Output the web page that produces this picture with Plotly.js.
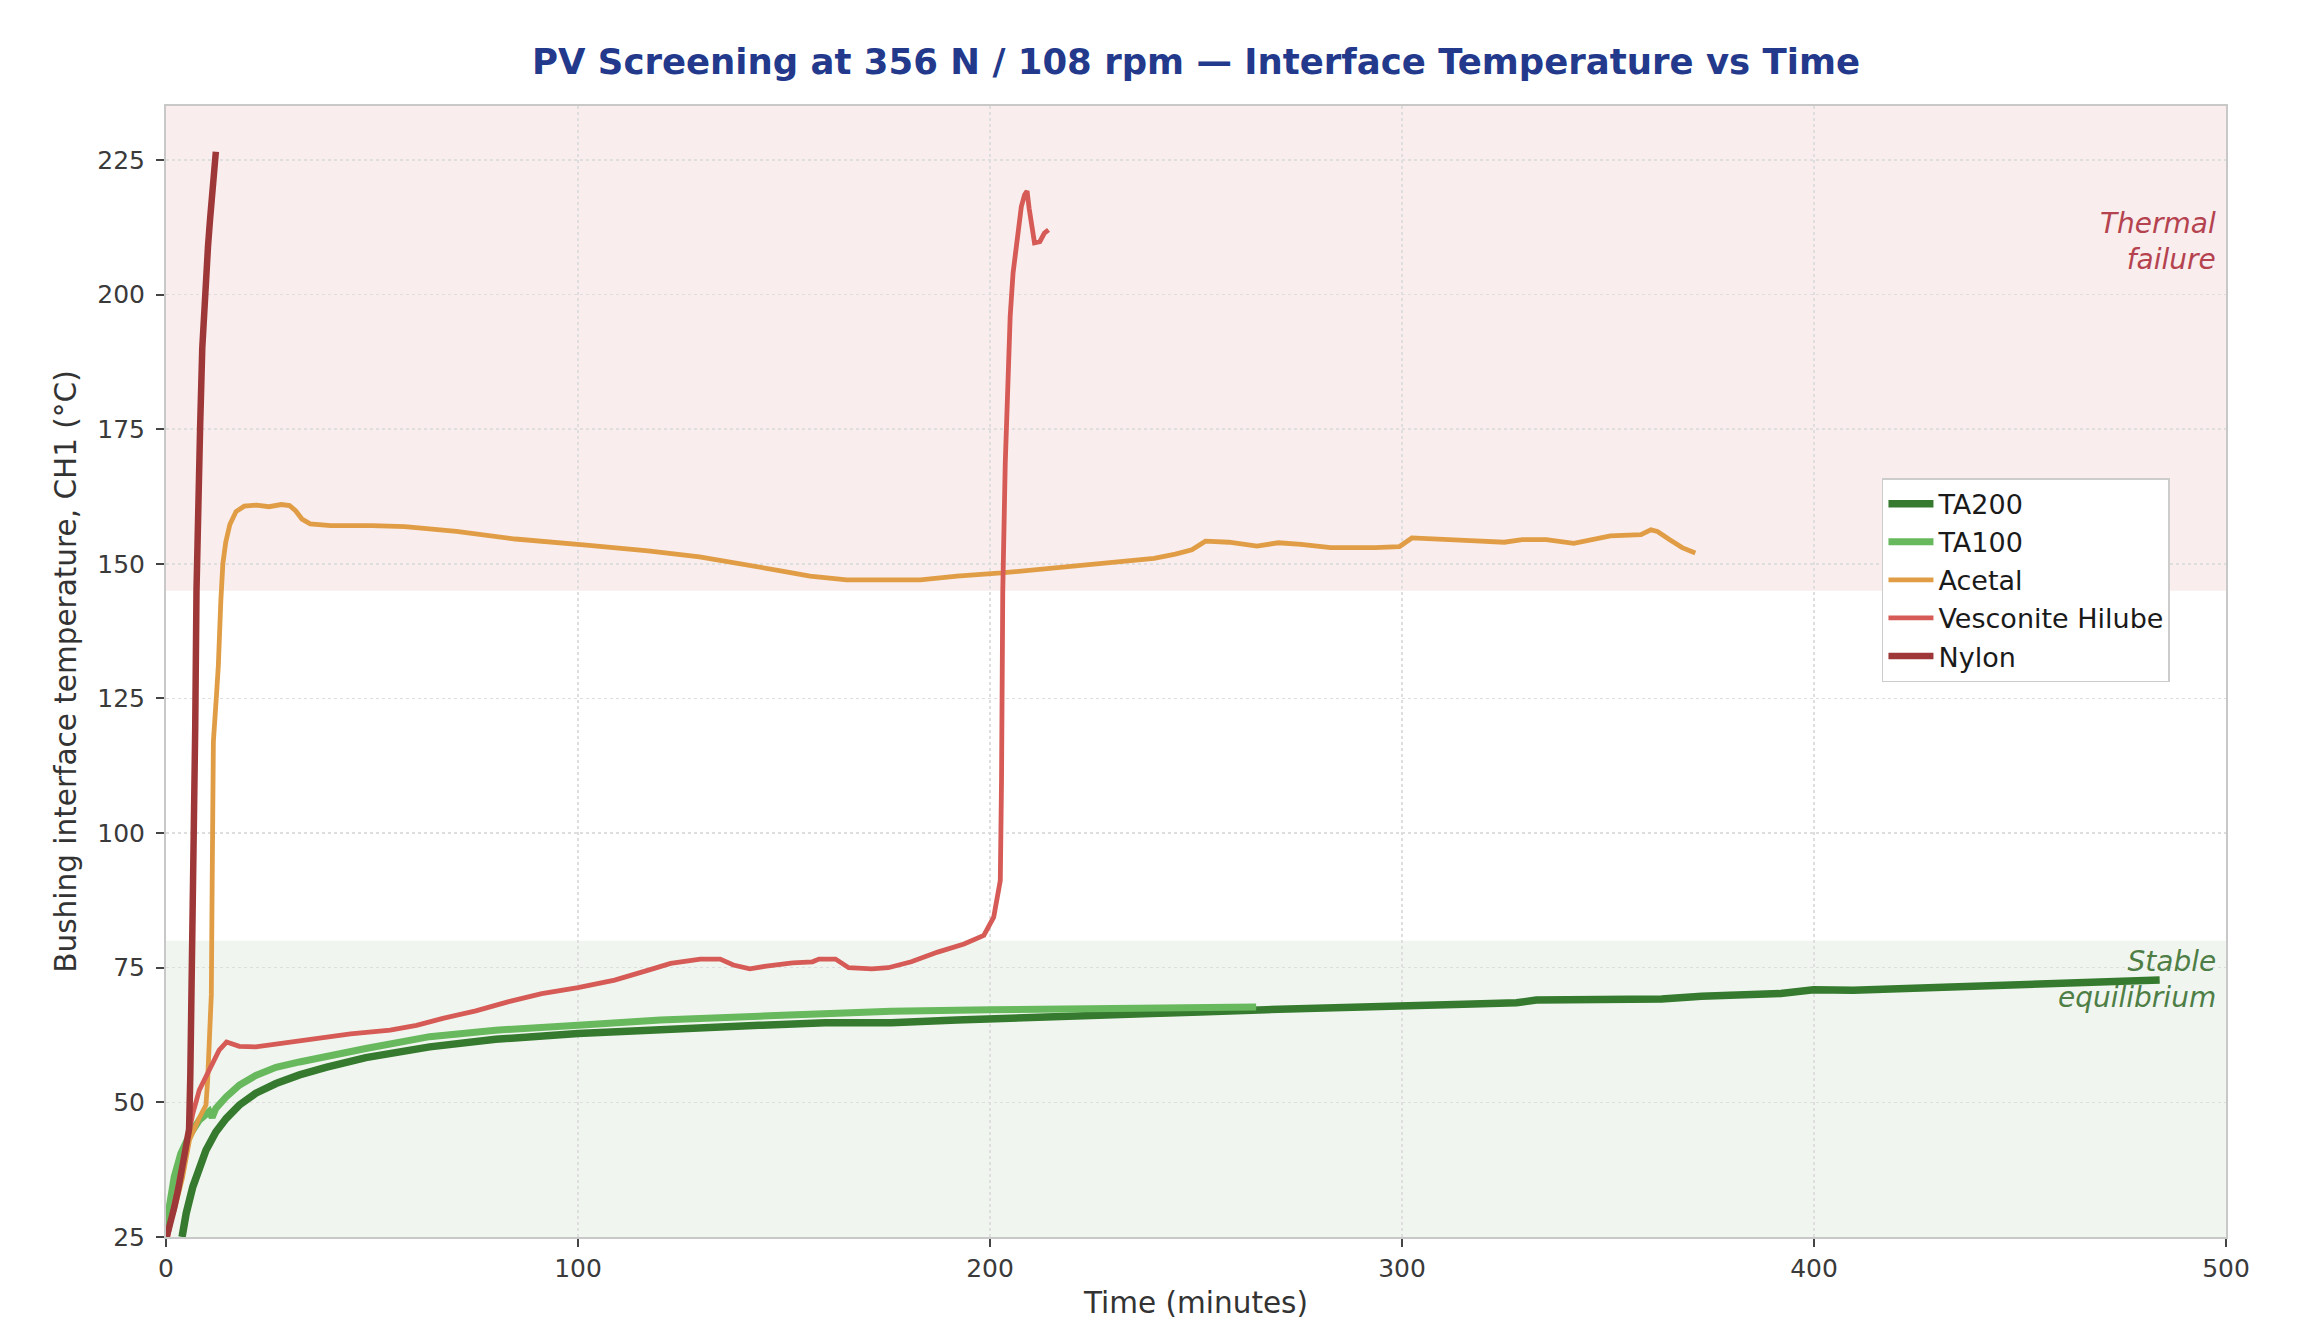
<!DOCTYPE html>
<html>
<head>
<meta charset="utf-8">
<script src="https://cdn.plot.ly/plotly-3.0.1.min.js"></script>
<style>
  html, body { margin: 0; padding: 0; background: #ffffff; }
  #paper { width: 2308px; height: 1320px; }
</style>
</head>
<body>
<div id="paper"></div>
<script>
"use strict"

// values (minutes, degC)
var ta200_time = [3.9, 4.9, 6.5, 8.1, 9.7, 12.1, 14.6, 17.8, 21.8, 26.7, 32.4, 38.8, 48.5, 64, 80, 100, 120, 144, 160, 176, 192, 208, 224, 251, 267, 292.6, 315, 327.8, 332.6, 363, 372.7, 391.9, 399.9, 409.5, 427.1, 443.1, 467.1, 483.9];
var ta200_temp = [25, 29.4, 34.3, 38, 41.1, 44.5, 47, 49.5, 51.7, 53.5, 55.1, 56.5, 58.3, 60.3, 61.7, 62.8, 63.6, 64.3, 64.8, 64.8, 65.3, 65.8, 66.2, 66.8, 67.2, 67.9, 68.2, 68.5, 69, 69.2, 69.7, 70.2, 70.9, 70.8, 71.3, 71.6, 72.2, 72.7];

var ta100_time = [0, 0.8, 2, 3.6, 5.7, 8.1, 9.7, 10.5, 11.2, 12.1, 14.6, 17.8, 21.8, 26.7, 32.4, 38.8, 48.5, 64, 80, 100, 120, 144, 160, 176, 200, 224, 251, 264.6];
var ta100_temp = [26.9, 30.6, 36.2, 40.5, 43.9, 46.7, 47.9, 48.3, 47.2, 48.9, 51, 53.2, 55, 56.5, 57.5, 58.6, 60, 62.2, 63.4, 64.3, 65.3, 66, 66.5, 66.9, 67.2, 67.4, 67.5, 67.7];

var acetal_time = [0, 2, 4, 5.7, 8, 9.7, 10.1, 10.5, 11, 11.2, 11.5, 12.2, 12.7, 13.3, 13.8, 14.5, 15.5, 17, 19, 22, 25, 28, 30, 31.5, 33, 35, 40, 50, 58, 70.5, 84.8, 102.7, 117, 129.5, 138.4, 149.2, 156.3, 165.2, 183.1, 192, 202.8, 218.8, 230, 239.8, 245, 249, 252.3, 258, 264.8, 270, 275.5, 282.7, 293.4, 299.4, 302.4, 308.5, 316.6, 324.8, 329.2, 335, 341.7, 350.6, 358, 360.4, 362, 364.9, 368, 371.2];
var acetal_temp = [25, 30, 36, 43, 47, 49.5, 54, 60, 70, 90, 117, 125, 131, 143, 150, 154, 157.3, 159.7, 160.7, 160.9, 160.6, 161, 160.8, 159.8, 158.3, 157.4, 157.1, 157.1, 156.9, 156, 154.6, 153.4, 152.4, 151.3, 150.2, 148.7, 147.7, 147, 147, 147.7, 148.3, 149.5, 150.3, 151, 151.8, 152.6, 154.2, 154, 153.3, 153.9, 153.6, 153, 153, 153.2, 154.8, 154.5, 154.3, 154, 154.5, 154.5, 153.8, 155.2, 155.4, 156.3, 156, 154.5, 153, 152];

var vesconite_time = [0.4, 1.6, 3.2, 4.9, 6.5, 8.1, 9.7, 11.3, 12.9, 14.7, 16.2, 17.8, 21.8, 26.7, 32.4, 38.8, 44.8, 54.4, 60.8, 67.2, 75.2, 83.2, 91.2, 100, 108.9, 116.9, 122.5, 129.7, 134.5, 137.7, 141.7, 145.7, 152.1, 156.9, 158.5, 162.5, 165.7, 171.3, 175.3, 180.9, 187.3, 193.7, 198.5, 200.9, 201.7, 202.5, 202.8, 203.1, 203.7, 204.3, 204.9, 205.6, 206.4, 207.6, 208.4, 209, 209.5, 210, 210.8, 212.1, 213.2, 214.2];
var vesconite_temp = [25, 29.4, 35.6, 41.8, 47.9, 52.3, 54.7, 57.2, 59.7, 61.2, 60.9, 60.4, 60.3, 60.8, 61.5, 62.2, 62.7, 63.4, 64.3, 65.6, 67, 68.7, 70.2, 71.3, 72.7, 74.5, 75.8, 76.6, 76.6, 75.5, 74.8, 75.3, 75.9, 76.1, 76.6, 76.6, 75, 74.8, 75, 76.1, 77.9, 79.4, 81, 84.4, 87.5, 91.2, 110, 145, 168.6, 183, 196, 204, 209.2, 216.3, 218.5, 219.2, 216, 213.9, 209.6, 209.8, 211.4, 212];

var nylon_time = [0, 1, 2, 3, 4, 5, 5.6, 5.9, 6.2, 6.5, 6.8, 7.1, 7.4, 7.8, 8.3, 8.8, 9.5, 10.2, 10.7, 11.4, 12.1];
var nylon_temp = [24.5, 27, 30.5, 34, 38, 42, 45, 55, 68, 85, 100, 120, 145, 165, 176, 190, 203, 209, 214, 221, 226.5];

var series_names = ["TA200", "TA100", "Acetal", "Vesconite Hilube", "Nylon"];
var x_ticks = [0, 100, 200, 300, 400, 500];
var y_ticks = [25, 50, 75, 100, 125, 150, 175, 200, 225];

var FONT = "DejaVu Sans";

function make_trace(name, x, y, color, width) {
    return {
        x: x,
        y: y,
        name: name,
        type: "scatter",
        mode: "lines",
        line: {color: color, width: width},
        hoverinfo: "skip"
    };
}

var data = [
    make_trace(series_names[0], ta200_time, ta200_temp, "#357a2e", 7.5),
    make_trace(series_names[1], ta100_time, ta100_temp, "#68b85e", 7),
    make_trace(series_names[2], acetal_time, acetal_temp, "#e09d45", 4.8),
    make_trace(series_names[3], vesconite_time, vesconite_temp, "#d65a55", 4.8),
    make_trace(series_names[4], nylon_time, nylon_temp, "#9e3838", 6.5)
];

var axis_common = {
    showline: true,
    mirror: true,
    linecolor: "#c8c8c8",
    linewidth: 2,
    ticks: "outside",
    ticklen: 8,
    tickwidth: 2,
    tickcolor: "#444444",
    showgrid: true,
    gridcolor: "#dedede",
    gridwidth: 1.5,
    griddash: "dot",
    zeroline: false,
    tickfont: {family: FONT, size: 25, color: "#3a3a3a"}
};

var layout = {
    width: 2308,
    height: 1320,
    margin: {l: 166, r: 82, t: 106, b: 83},
    paper_bgcolor: "#ffffff",
    plot_bgcolor: "#ffffff",
    showlegend: true,
    title: {
        text: "<b>PV Screening at 356 N / 108 rpm \u2014 Interface Temperature vs Time</b>",
        font: {family: FONT, size: 35.5, color: "#23398c"},
        x: 0.5,
        xref: "paper",
        xanchor: "center",
        y: 1 - 62 / 1320,
        yref: "container",
        yanchor: "middle"
    },
    xaxis: Object.assign({}, axis_common, {
        range: [0, 500],
        tickvals: x_ticks,
        ticktext: x_ticks.map(String),
        title: {text: "Time (minutes)", font: {family: FONT, size: 29.5, color: "#333333"}, standoff: 12}
    }),
    yaxis: Object.assign({}, axis_common, {
        range: [25, 235],
        tickvals: y_ticks,
        ticktext: y_ticks.map(String),
        ticklabelstandoff: 6,
        title: {text: "Bushing interface temperature, CH1 (\u00b0C)", font: {family: FONT, size: 29.5, color: "#333333"}, standoff: 12}
    }),
    legend: {
        x: 0.9728,
        xanchor: "right",
        y: 0.671,
        yanchor: "top",
        bgcolor: "#ffffff",
        bordercolor: "#cccccc",
        borderwidth: 1.5,
        font: {family: FONT, size: 27, color: "#1a1a1a"},
        itemwidth: 45
    },
    shapes: [
        {type: "rect", xref: "paper", yref: "y", x0: 0, x1: 1, y0: 145, y1: 235,
         fillcolor: "#f9eded", line: {width: 0}, layer: "below"},
        {type: "rect", xref: "paper", yref: "y", x0: 0, x1: 1, y0: 25, y1: 80,
         fillcolor: "#f0f6ef", line: {width: 0}, layer: "below"}
    ],
    annotations: [
        {text: "Thermal<br>failure", xref: "paper", yref: "paper", x: 0.996, y: 0.8806,
         xanchor: "right", yanchor: "middle", align: "right", showarrow: false,
         font: {family: FONT, size: 28, color: "#b5434f", style: "italic"}},
        {text: "Stable<br>equilibrium", xref: "paper", yref: "paper", x: 0.996, y: 0.228,
         xanchor: "right", yanchor: "middle", align: "right", showarrow: false,
         font: {family: FONT, size: 28, color: "#4e7e46", style: "italic"}}
    ]
};

Plotly.newPlot("paper", data, layout, {displayModeBar: false, staticPlot: true});
</script>
</body>
</html>
